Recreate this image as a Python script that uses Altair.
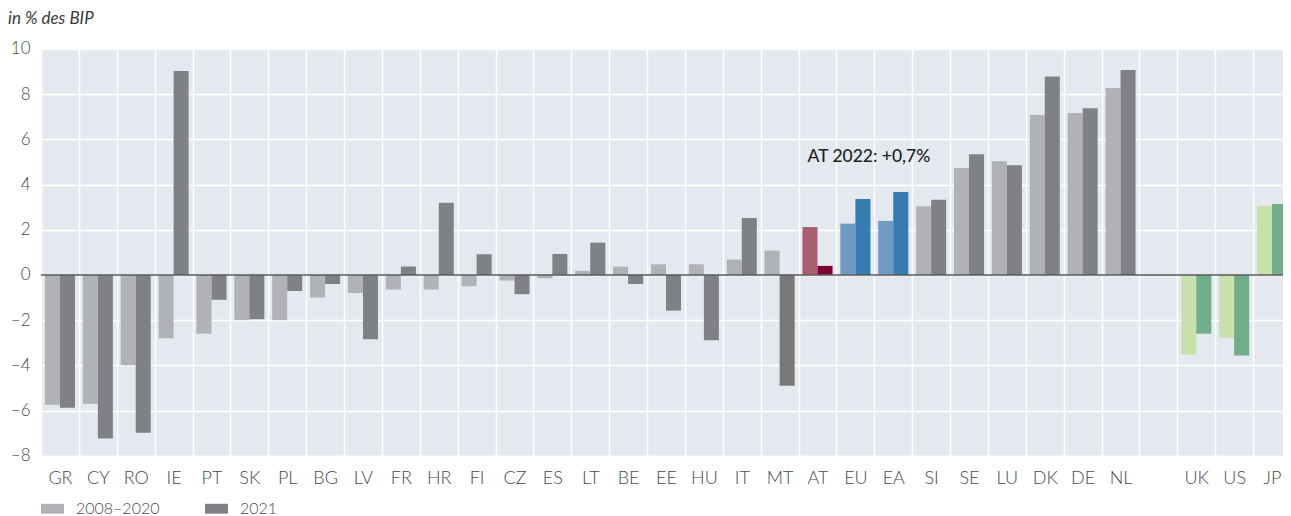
import altair as alt
import pandas as pd

categories = ["GR", "CY", "RO", "IE", "PT", "SK", "PL", "BG", "LV", "FR", "HR", "FI", "CZ",
              "ES", "LT", "BE", "EE", "HU", "IT", "MT", "AT", "EU", "EA", "SI", "SE", "LU",
              "DK", "DE", "NL", " ", "UK", "US", "JP"]
groups = ["grey"] * 19 + ["mt", "at", "eu", "eu"] + ["grey"] * 6 + ["gap", "green", "green", "green"]
values_2008_2020 = [-5.75, -5.7, -4.0, -2.8, -2.6, -2.0, -2.0, -1.0, -0.8, -0.65, -0.65, -0.5, -0.25,
                    -0.15, 0.18, 0.37, 0.47, 0.47, 0.68, 1.08, 2.12, 2.27, 2.39, 3.04, 4.73, 5.03,
                    7.08, 7.17, 8.27, None, -3.53, -2.77, 3.05]
values_2021 = [-5.88, -7.24, -6.98, 9.03, -1.1, -1.96, -0.71, -0.4, -2.85, 0.37, 3.2, 0.92, -0.85,
               0.93, 1.43, -0.4, -1.58, -2.89, 2.52, -4.9, 0.4, 3.36, 3.67, 3.33, 5.34, 4.85,
               8.78, 7.38, 9.07, None, -2.6, -3.57, 3.14]
series_names = ["2008–2020", "2021"]
annotation_cat = ["AT"]
annotation_y = [5.2]
annotation_text = ["AT 2022: +0,7%"]

key_map = {
    ("grey", 0): "2008–2020", ("grey", 1): "2021",
    ("mt", 0): "2008–2020", ("mt", 1): "MT-b",
    ("at", 0): "AT-a", ("at", 1): "AT-b",
    ("eu", 0): "EU-a", ("eu", 1): "EU-b",
    ("green", 0): "G-a", ("green", 1): "G-b",
}
rows = []
for c, g, v1, v2 in zip(categories, groups, values_2008_2020, values_2021):
    if g == "gap":
        continue
    for i, v in enumerate([v1, v2]):
        rows.append({"cat": c, "series": series_names[i], "value": v, "key": key_map[(g, i)]})
df = pd.DataFrame(rows)

color_domain = ["2008–2020", "2021", "MT-b", "AT-a", "AT-b", "EU-a", "EU-b", "G-a", "G-b"]
color_range = ["#b1b2b6", "#808185", "#787878", "#a8606f", "#7c0034", "#6e9ac4", "#357cb3",
               "#c8e1ab", "#6fae88"]

FONT = "Lato"
xscale = alt.Scale(domain=categories, paddingInner=0, paddingOuter=0, range=[0, 1250])
yscale = alt.Scale(domain=[-8, 10], nice=False, zero=False)

bars = alt.Chart(df).mark_bar().encode(
    x=alt.X("cat:N", scale=xscale, sort=categories, title=None,
            axis=alt.Axis(tickBand="extent", grid=True, gridColor="white", gridWidth=1.5,
                          ticks=False, domain=False, labelAngle=0, labelFont=FONT,
                          labelFontSize=18, labelColor="#4a4a4a", labelPadding=14,
                          labelFontWeight=300)),
    xOffset=alt.XOffset("series:N", sort=series_names,
                        scale=alt.Scale(paddingInner=0, paddingOuter=0.26)),
    y=alt.Y("value:Q", scale=yscale, title=None,
            axis=alt.Axis(values=list(range(-8, 11, 2)), grid=True, gridColor="white",
                          gridWidth=1.5, ticks=False, domain=False, labelFont=FONT,
                          labelFontSize=17, labelColor="#4a4a4a", labelPadding=11,
                          labelFontWeight=300,
                          labelExpr="datum.value < 0 ? '–' + abs(datum.value) : '' + datum.value")),
    color=alt.Color("key:N", scale=alt.Scale(domain=color_domain, range=color_range),
                    legend=alt.Legend(values=series_names, title=None, orient="none",
                                      legendX=0, legendY=448, direction="horizontal",
                                      symbolType="M-1,-0.43L1,-0.43L1,0.43L-1,0.43Z",
                                      symbolSize=529, symbolStrokeWidth=0,
                                      labelFont=FONT, labelFontSize=16, labelFontWeight=300,
                                      labelColor="#4a4a4a", labelOffset=12, columnPadding=45)),
)

zero = alt.Chart(pd.DataFrame({"y": [0]})).mark_rule(color="#58585a", strokeWidth=1.5).encode(
    y=alt.Y("y:Q", scale=yscale)
)

ann = alt.Chart(pd.DataFrame({"cat": annotation_cat, "y": annotation_y, "t": annotation_text})).mark_text(
    align="left", dx=-10, font=FONT, fontSize=17.5, color="#231f20", fontWeight=500
).encode(
    x=alt.X("cat:N", scale=xscale),
    y=alt.Y("y:Q", scale=yscale),
    text="t:N",
)

chart = alt.layer(bars, zero, ann).properties(
    width=1242, height=406.7,
    autosize=alt.AutoSizeParams(type="none"),
    padding={"left": 33, "top": 41, "right": 0, "bottom": 60},
    title=alt.TitleParams("in % des BIP", anchor="start", frame="group", dx=-33, offset=12,
                          fontStyle="italic", fontWeight="normal", fontSize=17, font=FONT,
                          color="#3a3a3a"),
).configure_view(fill="#e4e9f0", stroke=None)

chart.save("out.html", embed_options={"renderer": "svg", "actions": False})
